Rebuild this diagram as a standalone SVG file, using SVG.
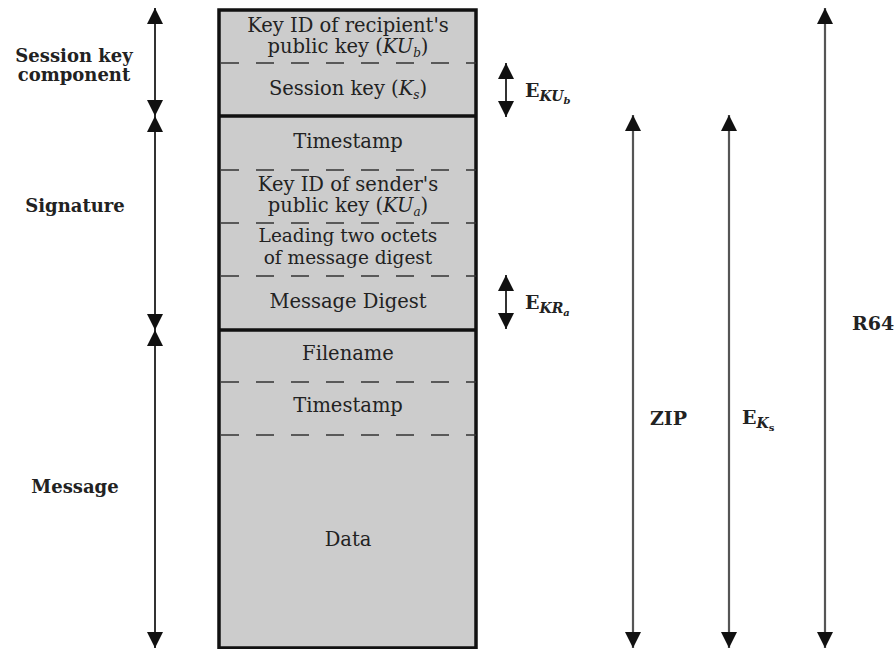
<svg xmlns="http://www.w3.org/2000/svg" width="894" height="649" viewBox="0 0 894 649">
<defs>
<marker id="ah" viewBox="0 0 10 10" refX="10" refY="5" markerUnits="userSpaceOnUse" markerWidth="16" markerHeight="17" orient="auto-start-reverse">
<path d="M0,0 L10,5 L0,10 z" fill="#111"/>
</marker>
<style>
.fld{font-family:"DejaVu Serif","Liberation Serif",serif;font-size:19.5px;fill:#222;text-anchor:middle}
.tight{font-size:18.5px}
.lbl{font-family:"DejaVu Serif","Liberation Serif",serif;font-size:18px;font-weight:bold;fill:#222;text-anchor:middle}
.op{font-family:"DejaVu Serif","Liberation Serif",serif;font-size:19px;font-weight:bold;fill:#222}
.it{font-style:italic}
.dash{stroke:#333;stroke-width:1.6;stroke-dasharray:18 17;fill:none}
.solid{stroke:#111;stroke-width:3.5;fill:none}
.arrL{stroke:#333;stroke-width:2;fill:none;marker-start:url(#ah);marker-end:url(#ah)}
.arrR{stroke:#555;stroke-width:2.2;fill:none;marker-start:url(#ah);marker-end:url(#ah)}
</style>
</defs>
<rect width="894" height="649" fill="#fff"/>

<g id="packet">
<rect x="219" y="10" width="257" height="638" fill="#cccccc" stroke="#111" stroke-width="3.5"/>
<line class="solid" x1="219" y1="116" x2="476" y2="116"/>
<line class="solid" x1="219" y1="330" x2="476" y2="330"/>
<line class="dash" x1="221" y1="63" x2="476" y2="63"/>
<line class="dash" x1="221" y1="170" x2="476" y2="170"/>
<line class="dash" x1="221" y1="223" x2="476" y2="223"/>
<line class="dash" x1="221" y1="276" x2="476" y2="276"/>
<line class="dash" x1="221" y1="382" x2="476" y2="382"/>
<line class="dash" x1="221" y1="435" x2="476" y2="435"/>
</g>

<g id="field-keyid-recipient">
<text class="fld" x="348" y="32">Key ID of recipient's</text>
<text class="fld" x="348" y="53">public key (<tspan class="it">KU</tspan><tspan class="it" font-size="12" dy="4">b</tspan><tspan dy="-4">)</tspan></text>
</g>
<g id="field-session-key">
<text class="fld" x="348" y="95">Session key (<tspan class="it">K</tspan><tspan class="it" font-size="12" dy="4">s</tspan><tspan dy="-4">)</tspan></text>
</g>
<g id="field-sig-timestamp">
<text class="fld" x="348" y="148">Timestamp</text>
</g>
<g id="field-keyid-sender">
<text class="fld" x="348" y="191">Key ID of sender's</text>
<text class="fld" x="348" y="212">public key (<tspan class="it">KU</tspan><tspan class="it" font-size="12" dy="4">a</tspan><tspan dy="-4">)</tspan></text>
</g>
<g id="field-leading-octets">
<text class="fld tight" x="348" y="242">Leading two octets</text>
<text class="fld tight" x="348" y="264">of message digest</text>
</g>
<g id="field-message-digest">
<text class="fld" x="348" y="308">Message Digest</text>
</g>
<g id="field-filename">
<text class="fld" x="348" y="360">Filename</text>
</g>
<g id="field-msg-timestamp">
<text class="fld" x="348" y="412">Timestamp</text>
</g>
<g id="field-data">
<text class="fld" x="348" y="546">Data</text>
</g>

<g id="label-session">
<text class="lbl" x="74" y="62">Session key</text>
<text class="lbl" x="74" y="81">component</text>
</g>
<g id="label-signature">
<text class="lbl" x="75" y="212">Signature</text>
</g>
<g id="label-message">
<text class="lbl" x="75" y="493">Message</text>
</g>

<g id="label-ekub">
<text class="op" x="525" y="97">E<tspan class="it" font-size="14" dy="4">KU</tspan><tspan class="it" font-size="10" dy="3">b</tspan></text>
</g>
<g id="label-ekra">
<text class="op" x="525" y="309">E<tspan class="it" font-size="14" dy="4">KR</tspan><tspan class="it" font-size="10" dy="3">a</tspan></text>
</g>
<g id="label-zip">
<text class="op" x="650" y="425">ZIP</text>
</g>
<g id="label-eks">
<text class="op" x="742" y="424">E<tspan class="it" font-size="14" dy="4">K</tspan><tspan font-size="10" dy="3">s</tspan></text>
</g>
<g id="label-r64">
<text class="op" x="852" y="330">R64</text>
</g>

<g id="connectors">
<line class="arrL" x1="155" y1="8" x2="155" y2="116"/>
<line class="arrL" x1="155" y1="116" x2="155" y2="330"/>
<line class="arrL" x1="155" y1="330" x2="155" y2="648"/>
<line class="arrL" x1="506" y1="63" x2="506" y2="117"/>
<line class="arrL" x1="506" y1="275" x2="506" y2="329"/>
<line class="arrR" x1="633" y1="115" x2="633" y2="648"/>
<line class="arrR" x1="729" y1="115" x2="729" y2="648"/>
<line class="arrR" x1="825" y1="8" x2="825" y2="648"/>
</g>
</svg>
